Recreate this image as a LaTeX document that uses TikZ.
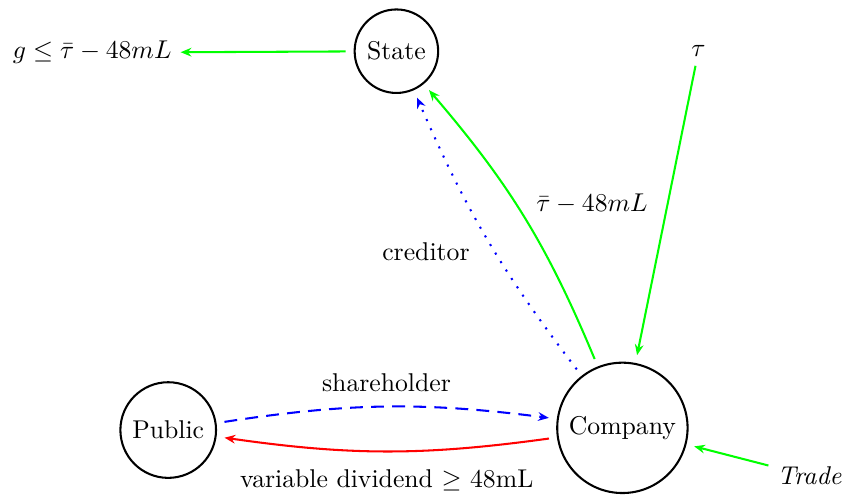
\documentclass[tikz,border=0pt]{standalone}
\usetikzlibrary{arrows.meta}
\begin{document}
\begin{tikzpicture}[
    party/.style={draw, circle, thick, outer sep=3.5pt},
    flow/.style={thick, -{Stealth[length=4.2pt, width=3.4pt, inset=1.4pt]}},
    tag/.style={text=black}
  ]
  \useasboundingbox (-2.30,-0.92) rectangle (9.24,5.88);
  \node[party] (public) at (0,0) {Public};
  \node[party] (company) at (6.21,0.03) {Company};
  \node[party] (state) at (3.12,5.18) {State};
  \node (tau) at (7.25,5.18) {$\tau$};
  \node (trade) at (8.77,-0.63) {\textit{Trade}};
  \node (limit) at (-1.04,5.16) {$g \leq \bar{\tau} - 48mL$};
  \draw[flow, green] (state) -- (limit);
  \draw[flow, green] (company) to[bend right=9] node[tag, right, xshift=1pt, yshift=5pt] {$\bar{\tau} - 48mL$} (state);
  \draw[flow, blue, dash pattern=on \pgflinewidth off 3.1pt] (company) to[bend left=7] node[tag, left, pos=0.45, xshift=-6pt] {creditor} (state);
  \draw[flow, green] (tau) -- (company);
  \draw[flow, green] (trade) -- (company);
  \draw[flow, blue, dash pattern=on 5pt off 3.2pt] (public) to[bend left=8] node[tag, above, yshift=2pt] {shareholder} (company);
  \draw[flow, red] (company) to[bend left=8] node[tag, below, yshift=-3.5pt] {variable dividend $\geq$ 48mL} (public);
\end{tikzpicture}
\end{document}
